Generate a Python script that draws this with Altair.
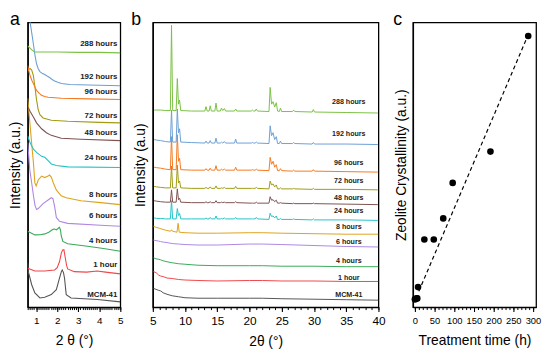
import altair as alt
import pandas as pd

FONT = "Liberation Sans"

series = ["MCM-41", "1 hour", "4 hours", "6 hours", "8 hours", "24 hours",
          "48 hours", "72 hours", "96 hours", "192 hours", "288 hours"]
colors = ["#555555", "#f0474a", "#39aa57", "#ae87e3", "#dea31d", "#22c3c7",
          "#7e5150", "#a09b12", "#f47a22", "#6c9fd5", "#7bc144"]

# ---------------- Panel a: low-angle XRD (stacked intensity, a.u.) ----------
a_x = {
    "288 hours": [0.6, 0.7, 0.8, 0.93, 1.2, 2.0, 3.0, 4.0, 5.0],
    "192 hours": [0.6, 0.7, 0.8, 0.87, 0.95, 1.02, 1.1, 1.18, 1.3, 1.41, 1.52, 1.64, 1.76, 1.88, 2.0, 2.2, 2.6, 3.5, 5.0],
    "96 hours": [0.6, 0.65, 0.71, 0.8, 0.87, 0.95, 1.02, 1.15, 1.26, 1.4, 1.57, 2.2, 3.5, 5.0],
    "72 hours": [0.6, 0.66, 0.72, 0.79, 0.87, 0.94, 1.02, 1.1, 1.18, 1.33, 1.72, 2.5, 4.0, 5.0],
    "48 hours": [0.6, 0.71, 0.87, 1.02, 1.26, 1.49, 1.72, 2.19, 3.13, 5.0],
    "24 hours": [0.6, 0.71, 0.87, 1.02, 1.26, 1.41, 1.57, 1.72, 1.96, 2.5, 5.0],
    "8 hours": [0.6, 0.67, 0.75, 0.87, 0.94, 1.0, 1.1, 1.26, 1.41, 1.57, 1.64, 1.72, 1.82, 1.96, 2.19, 2.43, 3.13, 4.06, 5.0],
    "6 hours": [0.6, 0.7, 0.79, 0.88, 0.95, 1.02, 1.1, 1.33, 1.57, 1.72, 1.8, 1.88, 1.96, 2.11, 2.5, 4.06, 5.0],
    "4 hours": [0.6, 0.94, 1.2, 1.41, 1.6, 1.72, 1.8, 1.88, 1.96, 2.05, 2.11, 2.16, 2.19, 2.27, 2.5, 3.44, 4.2, 5.0],
    "1 hour": [0.6, 0.94, 1.41, 1.88, 2.0, 2.11, 2.2, 2.26, 2.32, 2.39, 2.45, 2.5, 2.81, 3.4, 3.9, 4.3, 5.0],
    "MCM-41": [0.6, 0.63, 0.79, 0.94, 1.18, 1.41, 1.72, 1.96, 2.11, 2.2, 2.24, 2.3, 2.35, 2.43, 2.66, 3.91, 5.0],
}
a_y = {
    "288 hours": [265, 263, 261, 259, 259, 259, 258.5, 258.5, 258],
    "192 hours": [302, 291, 277, 267, 255, 247, 242, 239, 237, 236, 234.5, 233, 231, 229.5, 228.5, 227, 226, 225.5, 224.7],
    "96 hours": [245, 240, 235, 230, 227, 223, 220, 217, 215, 213.7, 213, 212, 211.3, 210.7],
    "72 hours": [240, 241.5, 242, 240.5, 235, 224, 210.3, 200.3, 195.3, 192, 189.7, 188.7, 187.5, 187],
    "48 hours": [203.7, 198.7, 193, 187, 181, 177, 174.3, 171.3, 170.3, 169],
    "24 hours": [173.7, 167, 160.3, 157, 153, 152, 148.7, 145.3, 143.7, 142.3, 141.7],
    "8 hours": [212, 195, 175.3, 147, 126, 123, 129, 133, 131.5, 133, 134, 132, 126, 119, 113, 111, 108, 106, 104],
    "6 hours": [167, 139, 126, 112, 103, 99, 100, 105, 108.7, 111, 110, 102, 91, 87, 85, 83, 82],
    "4 hours": [77, 73.3, 73.5, 74.3, 76, 77.7, 79, 79.3, 78.3, 80, 81, 78, 72.7, 66.7, 64.3, 61.7, 59.5, 56.7],
    "1 hour": [39.5, 36.7, 36.7, 37.7, 40, 46, 55, 58, 58.3, 49.3, 42, 38.7, 36, 35.5, 36.7, 35.5, 33.7],
    "MCM-41": [45, 36, 22.7, 14.3, 9.3, 10, 12.7, 17.7, 29.3, 36, 37.7, 35, 29.3, 12.7, 9.3, 7.7, 5.3],
}
a_label_y = [12, 43, 67, 92, 114, 151, 177, 194, 218, 234, 267]
a_label_x = 4.86

# ---------------- Panel b: wide-angle XRD ----------------------------------
b_offset = [7, 26, 41, 61, 74, 88, 104, 119, 137, 165, 197]
b_label_y = [12, 29, 47, 66, 81, 97, 111, 128, 146, 176, 208]
b_label_x = 35.4

# amorphous samples
b_grid_am = [5.1, 5.5, 5.9, 6.2, 6.6, 7.2, 8.0, 9.0, 10, 12, 15, 20, 22, 25, 30, 35, 40]
b_am = {
    "MCM-41": [12, 11, 10, 9.5, 7.5, 6, 4.5, 3.5, 2.5, 2, 2, 2, 2, 1.5, 1, 0.5, 0],
    "1 hour": [10, 9, 6.5, 5.5, 5, 3.5, 3, 2, 1.5, 1, 0.5, 1, 1, 0.5, 0.5, 0, 0],
    "4 hours": [9, 8, 7.5, 7, 6, 5, 4, 3, 2.5, 1.5, 1, 1, 1, 0.5, 0.5, 0, 0],
    "6 hours": [7, 6.5, 6, 5.5, 5, 4.5, 3.5, 3, 2.5, 2, 2, 3, 3, 2.5, 1.5, 0.5, 0],
}
b_grid_8h = [5.1, 5.5, 6.0, 7.0, 7.75, 7.9, 8.05, 8.75, 8.92, 9.1, 10, 12, 15, 20, 22, 25, 30, 35, 40]
b_8h = [8, 7, 6, 4, 3, 4.5, 3, 2, 11, 2, 1.5, 1, 1, 1.5, 1.5, 1, 0.5, 0, 0]

# crystalline samples (MFI reflections)
b_grid_cr = [5.2, 5.6, 6.2, 7.0, 7.72, 7.9, 8.08, 8.62, 8.8, 8.98, 9.15, 9.33, 11.0,
             13.07, 13.25, 13.43, 13.72, 13.9, 14.08, 14.62, 14.8, 14.98, 15.47, 15.65,
             15.85, 16.1, 16.28, 17.67, 17.85, 18.03, 20.27, 20.45, 20.63, 20.87, 21.05,
             21.23, 23.02, 23.2, 23.42, 23.65, 23.9, 24.15, 24.35, 24.62, 24.8, 24.98,
             26.67, 26.85, 27.03, 29.72, 29.9, 30.08, 35.0, 39.9]
b_cr = {
    "24 hours": [2.5, 2, 2, 1.5, 1.5, 20, 1.5, 1.5, 12, 5, 7, 1.5,
                 1.5, 1.5, 2.5, 1.5, 1.5, 3, 1.5, 1.5, 4.5, 1.5, 1.5, 2, 1.5, 2.5, 1.5, 1.5, 3, 1.5, 1.5, 1.5, 1.5, 1.5, 3, 1.5,
                 1, 7.3, 4, 4.5, 2.5, 4.5, 1, 1, 2, 1, 1, 1.5, 1, 0.5, 1.5, 0.5, 0.5, 0],
    "48 hours": [4, 3.5, 3, 2.5, 2.5, 15, 2.5, 2.5, 16, 5, 6.5, 2.5,
                 2, 2, 3, 2, 2, 3, 2, 2, 4, 2, 2, 2.5, 2, 2.5, 2, 2, 3, 2, 1.5, 1.5, 1.5, 1.5, 2.5, 1.5,
                 1.5, 8, 4.5, 5, 3, 4.5, 1.5, 1.5, 2, 1.5, 1, 1.5, 1, 1, 1.5, 1, 0.5, 0],
    "72 hours": [3.5, 3, 2.5, 2, 2, 24, 2, 2, 25, 7, 9, 2,
                 1.5, 1.5, 2.5, 1.5, 1.5, 3, 1.5, 1.5, 4, 1.5, 1.5, 2, 1.5, 2.5, 1.5, 1.5, 3.5, 1.5, 1.5, 1.5, 1.5, 1.5, 2.5, 1.5,
                 1, 9, 5, 6, 3, 5, 1, 1, 2, 1, 1, 1.5, 1, 0.5, 1.5, 0.5, 0.5, 0],
    "96 hours": [5, 4.5, 4, 3, 2.5, 36, 2.5, 2.5, 38, 11, 14, 2.5,
                 2, 2, 3.5, 2, 2, 4, 2, 2, 6.5, 2, 2, 3, 2, 3, 2, 2, 5, 2, 2, 2.5, 2, 2, 3, 2,
                 1.5, 15, 8, 11, 5, 7.5, 1.5, 1.5, 3.5, 1.5, 1, 2, 1, 1, 2.5, 1, 0.5, 0],
    "192 hours": [5, 4.5, 4, 3, 2.5, 35, 2.5, 2.5, 36, 12, 16, 2.5,
                  2, 1.5, 3.5, 1.5, 1.5, 4, 1.5, 1.5, 6.5, 1.5, 1.5, 2.5, 1.5, 3, 1.5, 1.5, 5.5, 1.5, 1.5, 2, 1.5, 1.5, 2.5, 1.5,
                  1, 19, 9, 12, 5, 8, 1, 1, 3.5, 1, 1, 2, 1, 0.5, 2, 0.5, 0.5, 0],
    "288 hours": [3, 3, 3, 2.5, 2.5, 89, 2.5, 2.5, 35, 9, 13, 2.5,
                  2, 2, 6.5, 2, 2, 7.3, 2, 2, 10, 2, 2, 5, 2.5, 4.5, 2, 2, 4, 2, 2, 3, 2, 2, 4, 2,
                  1.5, 26, 9, 11.5, 6, 10.5, 2, 1.5, 5, 1.5, 1.5, 3, 1.5, 1, 3.5, 1, 0.5, 0],
}

# ---------------- Panel c: crystallinity vs time ---------------------------
hours = [0, 1, 4, 6, 8, 24, 48, 72, 96, 192, 288]
crystallinity = [0, 0, 0.3, 0.3, 4.6, 22.7, 22.7, 30.7, 44.2, 56.1, 100]
fit_hours = [10, 288]
fit_cryst = [3.0, 100.5]

# ---------------- build tables ---------------------------------------------
rows = []
for s in series:
    for x, y in zip(a_x[s], a_y[s]):
        rows.append({"s": s, "x": x, "y": y})
df_a = pd.DataFrame(rows)
lab_a = pd.DataFrame({"s": series, "x": [a_label_x] * len(series), "y": a_label_y})

rows = []
for i, s in enumerate(series):
    if s in b_am:
        gx, gy = b_grid_am, b_am[s]
    elif s == "8 hours":
        gx, gy = b_grid_8h, b_8h
    else:
        gx, gy = b_grid_cr, b_cr[s]
    for x, y in zip(gx, gy):
        rows.append({"s": s, "x": x, "y": y + b_offset[i]})
df_b = pd.DataFrame(rows)
lab_b = pd.DataFrame({"s": series, "x": [b_label_x] * len(series), "y": b_label_y})

df_c = pd.DataFrame({"h": hours, "c": crystallinity})
df_fit = pd.DataFrame({"h": fit_hours, "c": fit_cryst})

color = alt.Color("s:N", scale=alt.Scale(domain=series, range=colors), legend=None)


def y_axis(title, pad):
    return alt.Axis(title=title, ticks=False, labels=False, grid=False, minExtent=0,
                    titlePadding=pad, titleFontSize=14, titleFont=FONT,
                    titleFontWeight="normal", titleColor="black",
                    domainColor="black", domainWidth=1.3)


def x_major(title, values, fs):
    return alt.Axis(title=title, values=values, format="d", tickSize=4.5, tickWidth=1.1,
                    tickColor="black", labelFontSize=fs, labelFont=FONT, labelColor="black",
                    labelPadding=4.5, labelFlush=False, titleFontSize=14, titlePadding=8,
                    titleFont=FONT, titleFontWeight="normal", titleColor="black",
                    domainColor="black", domainWidth=1.3, grid=False, orient="bottom")


def x_minor(count):
    return alt.Axis(title=None, labels=False, tickCount=count, tickSize=2.5, tickWidth=1,
                    tickColor="black", domain=False, grid=False, orient="bottom")


def letter(t, dx):
    return alt.Chart(pd.DataFrame({"t": [t]})).mark_text(
        font=FONT, fontSize=18, align="left", baseline="alphabetic", color="black"
    ).encode(x=alt.value(dx), y=alt.value(3), text="t:N")


H = 289
ysc = alt.Scale(domain=[0, 289], nice=False, zero=False)

# panel a
xa = alt.Scale(domain=[0.6, 5.0], nice=False, zero=False)
ya = y_axis("Intensity (a.u.)", 5)
la = alt.Chart(df_a).mark_line(strokeWidth=1.1, clip=True).encode(
    x=alt.X("x:Q", scale=xa, axis=x_major("2 θ (°)", [1, 2, 3, 4, 5], 10)),
    y=alt.Y("y:Q", scale=ysc, axis=ya), color=color, detail="s:N")
ta = alt.Chart(lab_a).mark_text(font=FONT, fontSize=8, fontWeight="bold", align="right",
                                baseline="middle", color="#222222").encode(
    x=alt.X("x:Q", scale=xa, axis=x_minor(44)),
    y=alt.Y("y:Q", scale=ysc, axis=ya), text="s:N")
pa = alt.layer(la, ta, letter("a", -18)).resolve_axis(x="independent").properties(width=94, height=H)

# panel b
xb = alt.Scale(domain=[5, 40], nice=False, zero=False)
yb = y_axis("Intensity (a.u)", 5)
lb = alt.Chart(df_b).mark_line(strokeWidth=1.0, clip=True).encode(
    x=alt.X("x:Q", scale=xb, axis=x_major("2θ (°)", [5, 10, 15, 20, 25, 30, 35, 40], 12)),
    y=alt.Y("y:Q", scale=ysc, axis=yb), color=color, detail="s:N")
tb = alt.Chart(lab_b).mark_text(font=FONT, fontSize=7.2, fontWeight="bold", align="center",
                                baseline="middle", color="#222222").encode(
    x=alt.X("x:Q", scale=xb, axis=x_minor(35)),
    y=alt.Y("y:Q", scale=ysc, axis=yb), text="s:N")
pb = alt.layer(lb, tb, letter("b", -22)).resolve_axis(x="independent").properties(width=229, height=H)

# panel c
xc = alt.Scale(domain=[-5, 308], nice=False, zero=False)
ycs = alt.Scale(domain=[-3, 105.2], nice=False, zero=False)
yc = y_axis("Zeolite Crystallinity (a.u.)", 5)
fit = alt.Chart(df_fit).mark_line(color="black", strokeWidth=1.2, strokeDash=[4, 3]).encode(
    x=alt.X("h:Q", scale=xc, axis=x_minor(31)),
    y=alt.Y("c:Q", scale=ycs, axis=yc))
pts = alt.Chart(df_c).mark_circle(size=45, color="black", opacity=1).encode(
    x=alt.X("h:Q", scale=xc, axis=x_major("Treatment time (h)", [0, 50, 100, 150, 200, 250, 300], 9.5)),
    y=alt.Y("c:Q", scale=ycs, axis=yc))
pc = alt.layer(pts, fit, letter("c", -20)).resolve_axis(x="independent").properties(width=125, height=H)

chart = alt.hconcat(pa, pb, pc, spacing=6).properties(padding=0).configure_view(
    stroke="black", strokeWidth=1.3)

chart.save("out.html", embed_options={"renderer": "svg", "actions": False})
